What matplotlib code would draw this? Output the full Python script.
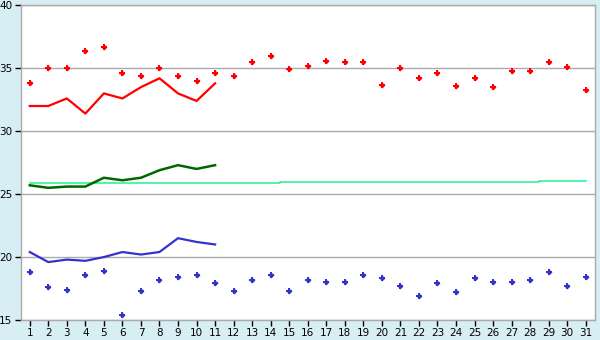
import matplotlib
matplotlib.use("Agg")
import matplotlib.pyplot as plt
import numpy as np

days = list(range(1, 32))
max_pts = [33.8, 35.0, 35.0, 36.4, 36.7, 34.6, 34.4, 35.0, 34.4, 34.0, 34.6,
           34.4, 35.5, 36.0, 34.9, 35.2, 35.6, 35.5, 35.5, 33.7, 35.0, 34.2,
           34.6, 33.6, 34.2, 33.5, 34.8, 34.8, 35.5, 35.1, 33.3]
min_pts = [18.8, 17.6, 17.4, 18.6, 18.9, 15.4, 17.3, 18.2, 18.4, 18.6, 17.9,
           17.3, 18.2, 18.6, 17.3, 18.2, 18.0, 18.0, 18.6, 18.3, 17.7, 16.9,
           17.9, 17.2, 18.3, 18.0, 18.0, 18.2, 18.8, 17.7, 18.4]
line_days = list(range(1, 12))
max_line = [32.0, 32.0, 32.6, 31.4, 33.0, 32.6, 33.5, 34.2, 33.0, 32.4, 33.8]
mean_line = [25.7, 25.5, 25.6, 25.6, 26.3, 26.1, 26.3, 26.9, 27.3, 27.0, 27.3]
min_line = [20.4, 19.6, 19.8, 19.7, 20.0, 20.4, 20.2, 20.4, 21.5, 21.2, 21.0]
normal = [25.86]*14 + [25.94]*9 + [26.0]*5 + [26.08]*3

bg = "#d8eef5"
fig = plt.figure(figsize=(6, 3.4), dpi=100, facecolor=bg)
ax = fig.add_axes([20.5/600, 1-320/340, (595-20.5)/600, (320-5.3)/340])
ax.set_facecolor("white")

ax.set_xlim(0.5, 31.5)
ax.set_ylim(15, 40)
ax.set_yticks([15, 20, 25, 30, 35, 40])
ax.set_xticks(days)
ax.yaxis.grid(True, color="#aaaaaa", linewidth=1)
ax.set_axisbelow(True)
for s in ax.spines.values():
    s.set_color("#aaaaaa")
    s.set_linewidth(1)
ax.tick_params(axis="both", labelsize=7.5, colors="black", length=4, width=1, pad=2)

ax.plot(days, normal, drawstyle="steps-mid", color="#22f090", lw=1.1, zorder=2)

ax.plot(line_days, max_line, color="#ff0000", lw=1.6, zorder=3)
ax.plot(line_days, mean_line, color="#006600", lw=1.8, zorder=3)
ax.plot(line_days, min_line, color="#3333cc", lw=1.6, zorder=3)

for pts, col in ((max_pts, "#ff0000"), (min_pts, "#3333cc")):
    ax.plot(days, pts, linestyle="none", marker="P", markersize=5,
            color=col, markeredgewidth=0, zorder=4)
    ax.plot(days, pts, linestyle="none", marker="D", markersize=3,
            color=col, markeredgewidth=0, zorder=4)

fig.savefig("out.png", dpi=100, facecolor=bg)
